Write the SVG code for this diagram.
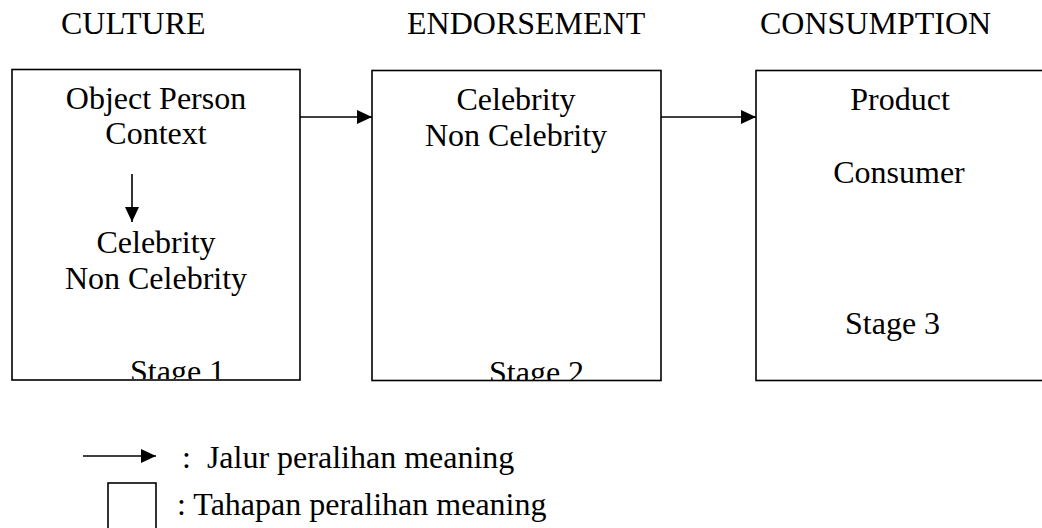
<svg xmlns="http://www.w3.org/2000/svg" width="1042" height="528" viewBox="0 0 1042 528">
<style>
text{font-family:"Liberation Serif","Times New Roman",serif;font-size:32px;fill:#000}
.c{text-anchor:middle}
.box{fill:#fff;stroke:#000;stroke-width:1.6}
.ln{stroke:#000;stroke-width:1.6;fill:none}
</style>
<defs>
<marker id="ah" markerUnits="userSpaceOnUse" markerWidth="16" markerHeight="14" refX="15" refY="7" orient="auto">
<path d="M0,0 L15,7 L0,14 z" fill="#000"/>
</marker>
<clipPath id="cp1"><rect x="12" y="69" width="288" height="310"/></clipPath>
<clipPath id="cp2"><rect x="372" y="70" width="289" height="310"/></clipPath>
</defs>
<g id="headers">
<text x="61" y="34">CULTURE</text>
<text x="407" y="34">ENDORSEMENT</text>
<text x="760" y="34">CONSUMPTION</text>
</g>
<g id="stage1">
<rect class="box" x="12" y="69.5" width="288" height="310.5"/>
<text class="c" x="156" y="109">Object Person</text>
<text class="c" x="156" y="144">Context</text>
<line class="ln" x1="132" y1="174" x2="132" y2="222" marker-end="url(#ah)"/>
<text class="c" x="156" y="253">Celebrity</text>
<text class="c" x="156" y="289">Non Celebrity</text>
<text x="130" y="382" clip-path="url(#cp1)">Stage 1</text>
</g>
<g id="stage2">
<rect class="box" x="372" y="70.5" width="289" height="310"/>
<text class="c" x="516" y="110">Celebrity</text>
<text class="c" x="516" y="146">Non Celebrity</text>
<text x="489" y="383" clip-path="url(#cp2)">Stage 2</text>
</g>
<g id="stage3">
<rect class="box" x="756" y="70.5" width="300" height="310"/>
<text class="c" x="900" y="110">Product</text>
<text class="c" x="899" y="183">Consumer</text>
<text x="845" y="334">Stage 3</text>
</g>
<g id="connectors">
<line class="ln" x1="300" y1="117" x2="372" y2="117" marker-end="url(#ah)"/>
<line class="ln" x1="661" y1="117" x2="756" y2="117" marker-end="url(#ah)"/>
</g>
<g id="legend">
<line class="ln" x1="83" y1="456" x2="156" y2="456" marker-end="url(#ah)"/>
<text x="182" y="468" xml:space="preserve">:  Jalur peralihan meaning</text>
<rect class="box" x="108" y="483" width="48" height="60"/>
<text x="177" y="515">: Tahapan peralihan meaning</text>
</g>
</svg>
